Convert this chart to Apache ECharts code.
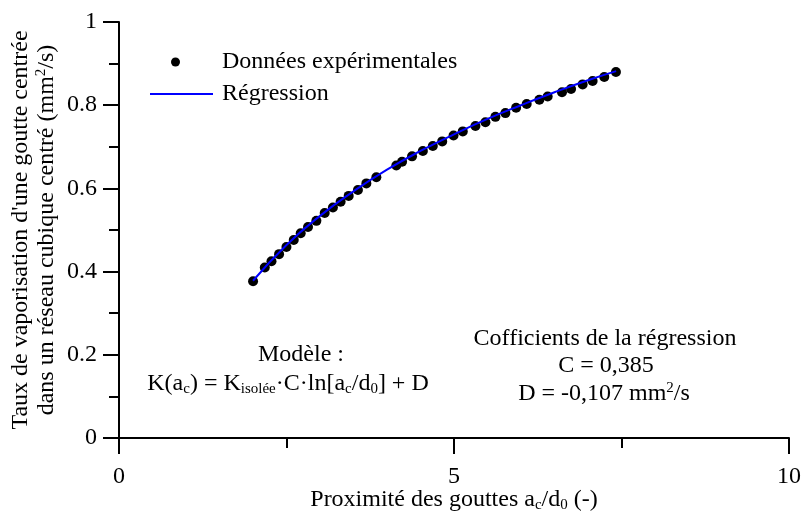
<!DOCTYPE html>
<html>
<head>
<meta charset="utf-8">
<script src="https://cdn.jsdelivr.net/npm/echarts@6/dist/echarts.min.js"></script>
<style>html,body{margin:0;padding:0;background:#fff;}#c{width:803px;height:516px;}</style>
</head>
<body>
<div id="c"></div>
<script>
const expX = [2.001, 2.176, 2.276, 2.389, 2.499, 2.608, 2.712, 2.821, 2.946, 3.070,
              3.193, 3.308, 3.428, 3.566, 3.692, 3.841, 4.139, 4.225, 4.374, 4.535,
              4.684, 4.824, 4.993, 5.131, 5.320, 5.469, 5.618, 5.767, 5.927, 6.085,
              6.274, 6.398, 6.612, 6.747, 6.920, 7.069, 7.243, 7.417];
const expY = [0.377, 0.410, 0.425, 0.442, 0.459, 0.476, 0.492, 0.507, 0.522, 0.541,
              0.554, 0.568, 0.582, 0.596, 0.612, 0.627, 0.655, 0.664, 0.677, 0.690,
              0.702, 0.713, 0.727, 0.737, 0.750, 0.759, 0.772, 0.781, 0.794, 0.803,
              0.813, 0.821, 0.831, 0.839, 0.850, 0.858, 0.868, 0.880];
// Regression curve
const regX = [2.0, 2.5, 3.0, 3.5, 4.0, 4.5, 5.0, 5.5, 6.0, 6.5, 7.0, 7.42];
const regY = [0.378, 0.464, 0.534, 0.593, 0.645, 0.690, 0.730, 0.767, 0.800, 0.831, 0.860, 0.882];
const xTicks = [0, 5, 10];
const yTicks = [0, 0.2, 0.4, 0.6, 0.8, 1];
const legendNames = ['Données expérimentales', 'Régression'];

const FF = '"Liberation Serif", "Times New Roman", serif';
const FS = 24;
const chart = echarts.init(document.getElementById('c'), null, {renderer: 'canvas'});
const sub = {fontFamily: FF, fontSize: 15, lineHeight: 12, verticalAlign: 'bottom', color: '#000'};
const sup = {fontFamily: FF, fontSize: 15, lineHeight: 12, verticalAlign: 'top', color: '#000'};
const norm = {fontFamily: FF, fontSize: FS, lineHeight: 26, color: '#000'};
const centerText = {fill: '#000', align: 'center', verticalAlign: 'middle', textAlign: 'center', textVerticalAlign: 'middle'};

chart.setOption({
  animation: false,
  backgroundColor: '#fff',
  grid: {left: 119, right: 14, top: 22, bottom: 78, containLabel: false, outerBoundsMode: 'none'},
  legend: [
    {orient: 'vertical', left: 171, top: 50, padding: 0, itemWidth: 9, itemHeight: 9,
     data: [legendNames[0]],
     textStyle: {fontFamily: FF, fontSize: FS, color: '#000', padding: [0, 0, 0, 37]}},
    {orient: 'vertical', left: 150, top: 82, padding: 0, itemWidth: 63, itemHeight: 2,
     icon: 'rect',
     data: [legendNames[1]],
     textStyle: {fontFamily: FF, fontSize: FS, color: '#000', padding: [0, 0, 0, 4]}}
  ],
  xAxis: {
    type: 'value', min: xTicks[0], max: xTicks[xTicks.length - 1], interval: 5,
    axisLine: {show: true, lineStyle: {color: '#000', width: 2}},
    axisTick: {show: true, inside: false, length: 16, lineStyle: {color: '#000', width: 2}},
    minorTick: {show: true, splitNumber: 2, length: 10, lineStyle: {color: '#000', width: 2}},
    splitLine: {show: false},
    axisLabel: {margin: 27, fontFamily: FF, fontSize: FS, color: '#000'},
    name: 'Proximité des gouttes a{s|c}/d{s|0} (-)',
    nameLocation: 'middle', nameGap: 49, nameMoveOverlap: false,
    nameTextStyle: {fontFamily: FF, fontSize: FS, color: '#000', lineHeight: 26, rich: {s: sub}}
  },
  yAxis: {
    type: 'value', min: yTicks[0], max: yTicks[yTicks.length - 1], interval: 0.2,
    axisLine: {show: true, lineStyle: {color: '#000', width: 2}},
    axisTick: {show: true, inside: false, length: 16, lineStyle: {color: '#000', width: 2}},
    minorTick: {show: true, splitNumber: 2, length: 10, lineStyle: {color: '#000', width: 2}},
    splitLine: {show: false},
    axisLabel: {margin: 22, fontFamily: FF, fontSize: FS, color: '#000'},
    name: "Taux de vaporisation d'une goutte centrée\ndans un réseau cubique centré (mm{p|2}/s)",
    nameLocation: 'middle', nameGap: 59, nameMoveOverlap: false,
    nameTextStyle: {fontFamily: FF, fontSize: FS, color: '#000', lineHeight: 26, align: 'center', rich: {p: sup}}
  },
  series: [
    {
      name: legendNames[1], type: 'line', smooth: true, symbol: 'none', showSymbol: false,
      data: regX.map((x, i) => [x, regY[i]]),
      lineStyle: {color: '#0000ff', width: 2}, itemStyle: {color: '#0000ff'}, z: 3
    },
    {
      name: legendNames[0], type: 'scatter', symbol: 'circle', symbolSize: 10,
      data: expX.map((x, i) => [x, expY[i]]),
      itemStyle: {color: '#000', opacity: 1}, z: 2
    }
  ],
  graphic: [
    {type: 'text', x: 301, y: 355, style: Object.assign({text: 'Modèle :', font: FS + 'px ' + FF}, centerText)},
    {type: 'text', x: 288, y: 384, style: Object.assign({
      text: '{n|K(a}{s|c}{n|) = K}{s|isolée}{n|·C·ln[a}{s|c}{n|/d}{s|0}{n|] + D}',
      rich: {n: norm, s: sub}}, centerText)},
    {type: 'text', x: 605, y: 339, style: Object.assign({text: 'Cofficients de la régression', font: FS + 'px ' + FF}, centerText)},
    {type: 'text', x: 606, y: 366, style: Object.assign({text: 'C = 0,385', font: FS + 'px ' + FF}, centerText)},
    {type: 'text', x: 604, y: 394, style: Object.assign({
      text: '{n|D = -0,107 mm}{p|2}{n|/s}',
      rich: {n: norm, p: sup}}, centerText)}
  ]
});
</script>
</body>
</html>
